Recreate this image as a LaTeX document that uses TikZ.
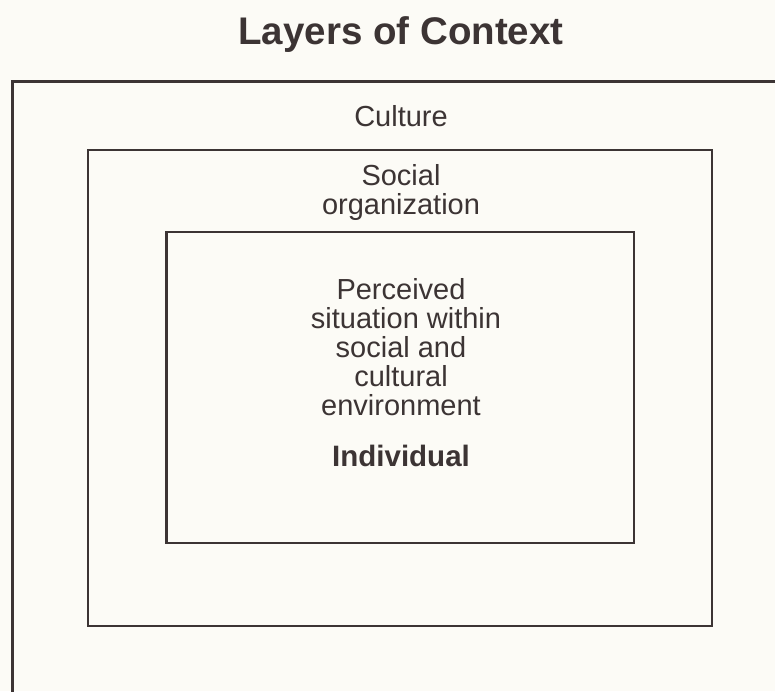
\documentclass[tikz,border=0pt]{standalone}
\usepackage{fontspec}
\setmainfont{Liberation Sans}
\definecolor{ink}{HTML}{3C3434}
\definecolor{paper}{HTML}{FCFBF6}
\tikzset{
  layerbox/.style={draw=ink, line width=2.4pt},
  lbl/.style={anchor=base, inner sep=0pt, text=ink, font=\fontsize{29}{29}\selectfont},
  boldlbl/.style={lbl, font=\fontsize{29.5}{29.5}\selectfont\bfseries},
  titlelbl/.style={anchor=base, inner sep=0pt, text=ink, font=\fontsize{38.5}{38.5}\selectfont\bfseries}
}
\begin{document}
\begin{tikzpicture}[x=1pt,y=-1pt]
\useasboundingbox (0,0) rectangle (775,691);
\clip (0,0) rectangle (775,691);
\fill[paper] (0,0) rectangle (775,691);
% layers
\draw[layerbox] (12.5,81.5) rectangle (800,720);
\draw[layerbox] (87.7,150) rectangle (712,626);
\draw[layerbox] (166.5,232) rectangle (634,543);
% texts
\node[titlelbl] (title) at (401,44) {Layers of Context};
\node[lbl] (culture) at (401,126) {Culture};
\node[lbl] (social) at (401,185) {Social};
\node[lbl] (org) at (401,214) {organization};
\node[lbl] (p1) at (401,299) {Perceived};
\node[lbl] (p2) at (406,328) {situation within};
\node[lbl] (p3) at (401,357) {social and};
\node[lbl] (p4) at (401,386) {cultural};
\node[lbl] (p5) at (401,415) {environment};
\node[boldlbl] (indiv) at (401,466) {Individual};
\end{tikzpicture}
\end{document}
